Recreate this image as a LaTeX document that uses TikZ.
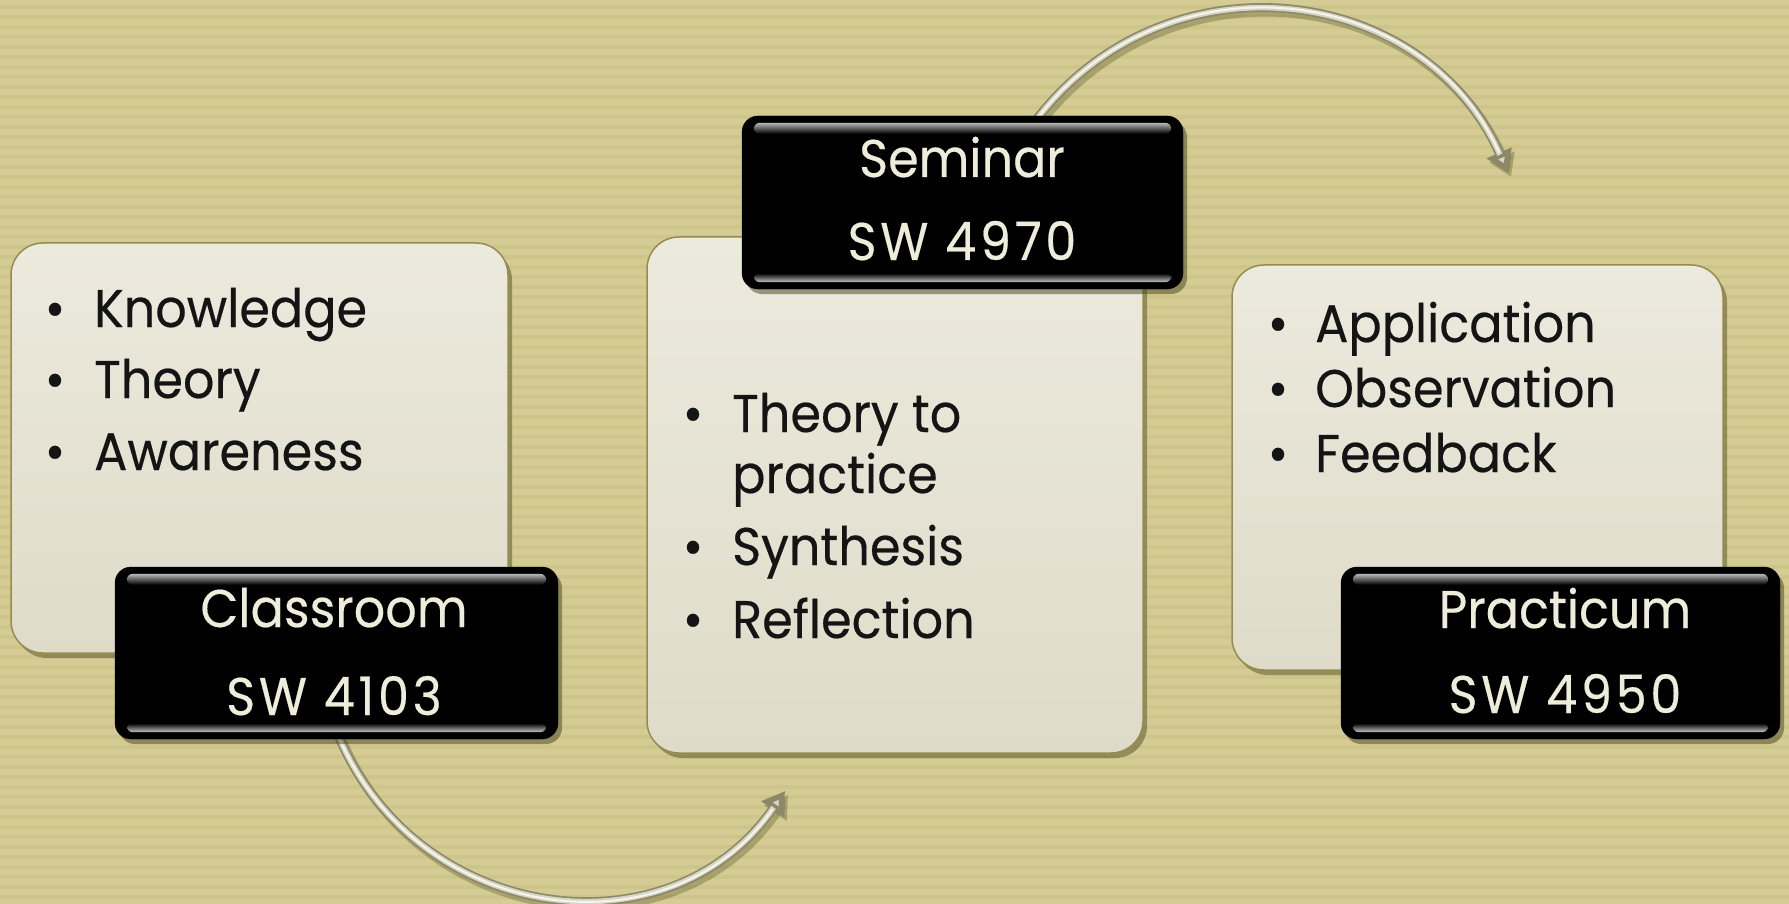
\documentclass[tikz,border=0pt]{standalone}
\usepackage{fontspec}
\setmainfont{Poppins}[FakeBold=0.35,FakeStretch=0.93]
\usetikzlibrary{arrows.meta,shadows}
\definecolor{bgA}{RGB}{212,204,148}
\definecolor{bgB}{RGB}{205,197,138}
\definecolor{boxTop}{RGB}{236,234,221}
\definecolor{boxBot}{RGB}{222,219,201}
\definecolor{boxEdge}{RGB}{150,140,80}
\definecolor{shadowC}{RGB}{70,66,25}
\definecolor{labelText}{RGB}{238,236,218}
\definecolor{tubeDark}{RGB}{140,136,104}
\definecolor{tubeMid}{RGB}{214,212,195}
\definecolor{tubeLight}{RGB}{246,245,236}
\begin{document}
\begin{tikzpicture}[x=1pt,y=-1pt,
  lightbox/.style={rounded corners=32pt, draw=boxEdge, line width=1.5pt,
    top color=boxTop, bottom color=boxBot, inner sep=0pt,
    drop shadow={shadow xshift=4pt, shadow yshift=-5pt, opacity=0.45, fill=shadowC}},
  darkbox/.style={rounded corners=16pt, fill=black, draw=black, inner sep=0pt,
    minimum width=443pt, minimum height=172pt,
    drop shadow={shadow xshift=4pt, shadow yshift=-5pt, opacity=0.5, fill=shadowC}},
  itemtext/.style={anchor=base west, inner sep=0pt, text=black!92, font=\fontsize{53}{60}\selectfont},
  dottext/.style={anchor=base, inner sep=0pt, text=black!92, font=\fontsize{53}{60}\selectfont},
  labeltext/.style={anchor=base, inner sep=0pt, text=labelText, font=\fontsize{53}{60}\selectfont},
  codetext/.style={labeltext, font=\fontsize{53}{60}\selectfont\addfontfeatures{LetterSpace=7}},
  tubeshadow/.style={line width=10pt, draw=shadowC, opacity=0.3, -{Triangle[length=22pt,width=26pt]}},
  tubebase/.style={line width=9pt, draw=tubeDark, -{Triangle[length=22pt,width=26pt,fill=tubeMid]}},
  tubelight/.style={line width=5.5pt, draw=tubeMid, shorten >=20pt},
  tubeshine/.style={line width=2pt, draw=tubeLight, shorten >=22pt},
]
\useasboundingbox (0,0) rectangle (1789,904);
% background
\fill[bgA] (0,0) rectangle (1789,904);
\foreach \i in {0,...,90} {\fill[bgB] (0,{\i*10+5}) rectangle (1789,{\i*10+9});}

% light boxes
\node[lightbox, minimum width=497pt, minimum height=410pt] (know) at (259.5,448) {};
\node[lightbox, minimum width=496pt, minimum height=516pt] (synth) at (895,495) {};
\node[lightbox, minimum width=491pt, minimum height=405pt] (appl) at (1477.5,467.5) {};

% bullet texts box 1
\node[dottext] (d11) at (55,327) {•};
\node[itemtext] (t11) at (94,327) {Knowledge};
\node[dottext] (d12) at (55,398) {•};
\node[itemtext] (t12) at (94,398) {Theory};
\node[dottext] (d13) at (55,470) {•};
\node[itemtext] (t13) at (94,470) {Awareness};
% box 2
\node[dottext] (d21) at (693,432) {•};
\node[itemtext] (t21) at (732,432) {Theory to};
\node[itemtext] (t22) at (732,493) {practice};
\node[dottext] (d23) at (693,565) {•};
\node[itemtext] (t23) at (732,565) {Synthesis};
\node[dottext] (d24) at (693,638) {•};
\node[itemtext] (t24) at (732,638) {Reflection};
% box 3
\node[dottext] (d31) at (1278,342) {•};
\node[itemtext] (t31) at (1315,342) {Application};
\node[dottext] (d32) at (1278,407) {•};
\node[itemtext] (t32) at (1315,407) {Observation};
\node[dottext] (d33) at (1278,472) {•};
\node[itemtext] (t33) at (1315,472) {Feedback};

% connectors (drawn under the dark boxes)
\coordinate (a1e) at (785,791);
\coordinate (a2e) at (1508,173);
\coordinate (a1s) at (338,735);
\coordinate (a2s) at (1036,120);
\foreach \st in {tubeshadow} {
  \draw[\st, transform canvas={xshift=3pt,yshift=-4pt}] (a1s) .. controls +(80,190) and +(-115,166) .. (a1e);
  \draw[\st, transform canvas={xshift=3pt,yshift=-4pt}] (a2s) .. controls +(130,-170) and +(-84,-191) .. (a2e);
}
\foreach \st in {tubebase,tubelight,tubeshine} {
  \draw[\st] (a1s) .. controls +(80,190) and +(-115,166) .. (a1e);
  \draw[\st] (a2s) .. controls +(130,-170) and +(-84,-191) .. (a2e);
}

% dark boxes
\node[darkbox] (class) at (336.5,653) {};
\node[darkbox, minimum width=441pt, minimum height=173pt] (sem) at (962.5,202.5) {};
\node[darkbox, minimum width=439pt] (prac) at (1560.5,653) {};
% bevel highlights
\foreach \b in {class,sem,prac} {
  \shade[top color=black!28, bottom color=black, rounded corners=6pt]
    ([xshift=12pt,yshift=-7pt]\b.north west) rectangle ([xshift=-12pt,yshift=-18pt]\b.north east);
  \shade[top color=black, bottom color=black!22, rounded corners=6pt]
    ([xshift=12pt,yshift=16pt]\b.south west) rectangle ([xshift=-12pt,yshift=7pt]\b.south east);
}

% labels
\node[labeltext] (l1a) at (334,627) {Classroom};
\node[codetext] (l1b) at (334,715) {SW 4103};
\node[labeltext] (l2a) at (962,177) {Seminar};
\node[codetext] (l2b) at (962,260) {SW 4970};
\node[labeltext] (l3a) at (1565,628) {Practicum};
\node[codetext] (l3b) at (1565,713) {SW 4950};
\end{tikzpicture}
\end{document}
